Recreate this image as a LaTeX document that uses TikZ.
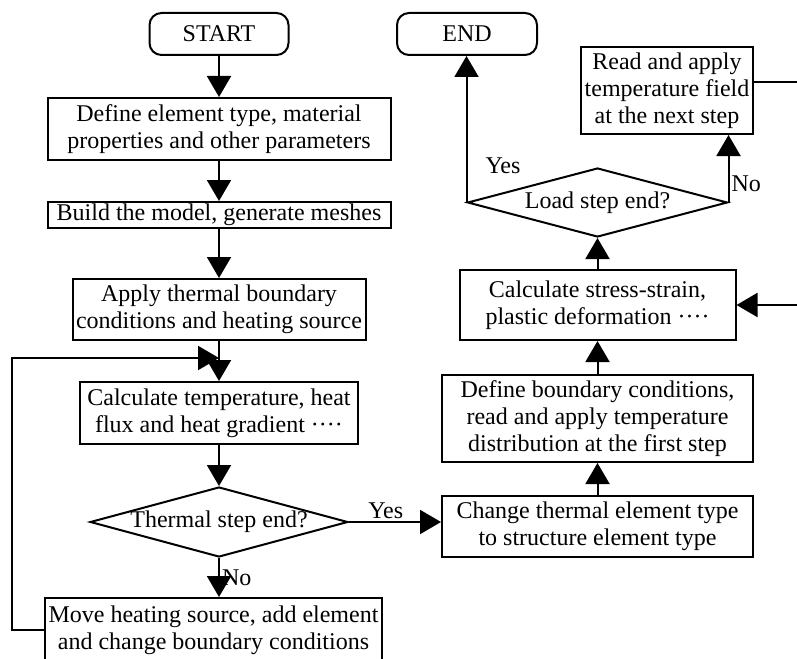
\documentclass[tikz,border=0pt]{standalone}
\usepackage{fontspec}
\setmainfont{Liberation Serif}
\usetikzlibrary{shapes.geometric, arrows.meta, positioning, calc}

\tikzset{
    box/.style={draw, line width=1pt, align=center, inner sep=0pt,
        font=\fontsize{12}{13.5}\selectfont},
    term/.style={box, rounded corners=6pt},
    decide/.style={box, diamond, aspect=3.7},
    arr/.style={line width=1pt, -{Triangle[length=10.5pt,width=12pt]}},
    line/.style={line width=1pt},
    lbl/.style={font=\fontsize{12}{13.5}\selectfont, inner sep=1pt},
}

\begin{document}
\begin{tikzpicture}[x=0.5pt, y=-0.5pt]

    \useasboundingbox (0,0) rectangle (797,658);

    % thermal analysis
    \node[term, minimum width=69.5pt, minimum height=21pt] (start) at (219,34) {START};
    \node[box, minimum width=171.5pt, minimum height=31pt] (define) at (219,129)
        {Define element type, material\\properties and other parameters};
    \node[box, minimum width=171.5pt, minimum height=13pt] (build) at (219,215)
        {Build the model, generate meshes};
    \node[box, minimum width=146.5pt, minimum height=30.5pt] (apply) at (219,309.5)
        {Apply thermal boundary\\conditions and heating source};
    \node[box, minimum width=139pt, minimum height=31pt] (calcT) at (219,413)
        {Calculate temperature, heat\\flux and heat gradient ····};
    \node[decide, minimum width=128.5pt, minimum height=35pt] (thermal) at (219,522)
        {Thermal step end?};
    \node[box, minimum width=168.5pt, minimum height=32pt] (move) at (213.5,630)
        {Move heating source, add element\\and change boundary conditions};

    % structural analysis
    \node[box, minimum width=155.5pt, minimum height=30.5pt] (change) at (597.5,526.5)
        {Change thermal element type\\to structure element type};
    \node[box, minimum width=155.5pt, minimum height=43.5pt] (bound) at (597.5,418.5)
        {Define boundary conditions,\\read and apply temperature\\distribution at the first step};
    \node[box, minimum width=138pt, minimum height=35pt] (stress) at (597.5,305)
        {Calculate stress-strain,\\plastic deformation ····};
    \node[decide, minimum width=130pt, minimum height=34.5pt] (load) at (597.5,202.5)
        {Load step end?};
    \node[term, minimum width=70pt, minimum height=21pt] (end) at (467,34) {END};
    \node[box, minimum width=86pt, minimum height=43.5pt] (read) at (667,90.5)
        {Read and apply\\temperature field\\at the next step};

    \coordinate (join) at (219,358);
    \coordinate (lpx) at (12,630);
    \coordinate (redge) at (800,0);

    \draw[arr] (start) -- (define);
    \draw[arr] (define) -- (build);
    \draw[arr] (build) -- (apply);
    \draw[arr] (apply) -- (calcT);
    \draw[arr] (calcT) -- (thermal);
    \draw[arr] (thermal.south) -- node[lbl, right]{No} (thermal.south |- move.north);
    \draw[arr] (move.west) -- (move.west -| lpx) |- (join);
    \draw[arr] (thermal.east) -- node[lbl, above, pos=0.4]{Yes} (thermal.east -| change.west);

    \draw[arr] (change) -- (bound);
    \draw[arr] (bound) -- (stress);
    \draw[arr] (stress) -- (load);
    \draw[arr] (load.west) -- node[lbl, right=8pt, pos=0.25]{Yes} (load.west |- end.south);
    \draw[arr] (load.east) -- node[lbl, right, pos=0.28]{No} (load.east |- read.south);

    \path ([yshift=4.25pt]read.east) coordinate (rfrom);
    \draw[line] (rfrom) -- (rfrom -| redge);
    \draw[arr] (stress.east -| redge) -- (stress);

\end{tikzpicture}
\end{document}
